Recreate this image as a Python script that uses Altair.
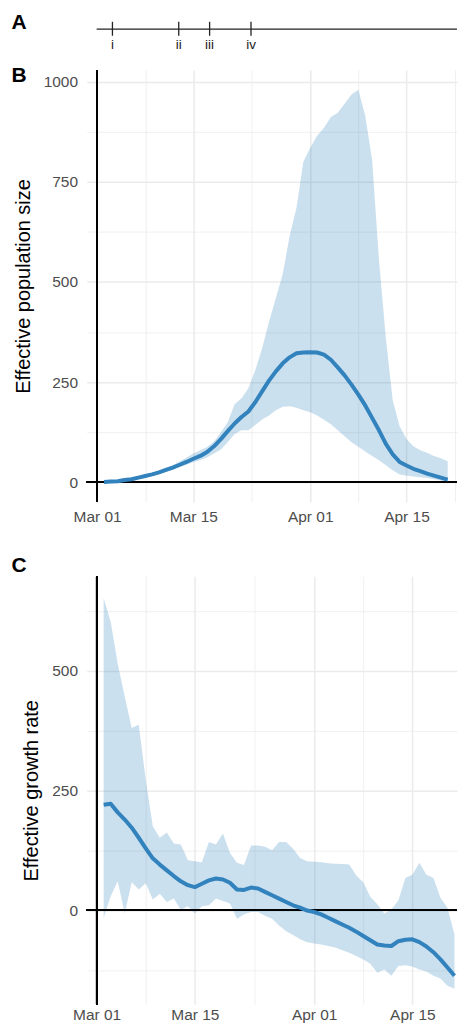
import altair as alt
import pandas as pd

FONT = "Liberation Sans"
BLUE = "#3182BD"
GRID = "#EBEBEB"
LABEL_GREY = "#4D4D4D"
START = pd.Timestamp("2020-03-01")

# ---------------- data ----------------
dates = pd.date_range("2020-03-02", "2020-04-21", freq="D")
days = [int((d - START).days) for d in dates]

# Panel A: timeline events (days after Mar 01)
event_days = [2.25, 11.7, 16.1, 22.0]
event_labels = ["i", "ii", "iii", "iv"]

# Panel B: effective population size
b_median = [1, 2, 3, 6, 8, 12, 16, 20, 25, 31, 37, 44, 51, 59, 66, 76, 90, 108, 128, 147,
            163, 177, 200, 227, 254, 277, 297, 312, 322, 324, 325, 324, 319, 306, 287, 267,
            244, 219, 192, 161, 130, 96, 70, 51, 42, 34, 28, 22, 17, 12, 7]
b_lower = [0, 1, 2, 4, 6, 9, 13, 17, 21, 26, 32, 38, 44, 51, 55, 62, 72, 82, 100, 121,
           130, 130, 143, 157, 167, 180, 189, 190, 186, 180, 175, 167, 156, 145, 130, 115,
           100, 89, 77, 66, 55, 43, 30, 20, 17, 15, 13, 11, 8, 5, 1]
b_upper = [2, 3, 5, 8, 10, 14, 19, 24, 29, 36, 43, 52, 62, 72, 80, 88, 102, 125, 150, 195,
           210, 235, 280, 335, 400, 460, 520, 615, 685, 800, 835, 865, 885, 912, 922, 945,
           968, 980, 915, 805, 555, 360, 205, 140, 108, 90, 80, 74, 66, 60, 53]

# Panel C: effective growth rate
c_median = [220, 222, 204, 189, 172, 151, 129, 108, 95, 83, 71, 60, 52, 48, 55, 62, 66, 64,
            57, 43, 42, 47, 45, 38, 31, 24, 17, 10, 5, -1, -4, -9, -16, -23, -30, -37, -45,
            -54, -63, -72, -74, -75, -65, -62, -61, -67, -76, -88, -103, -120, -137]
c_lower = [-16, 29, 60, -7, 58, 43, 56, 22, 34, 17, 24, 0, 8, -7, 8, 10, 24, 19, 14, -18,
           -9, -4, -4, -12, -18, -32, -44, -52, -61, -67, -70, -72, -75, -78, -84, -89, -96,
           -103, -112, -131, -124, -137, -117, -115, -118, -124, -128, -137, -143, -158, -164]
c_upper = [651, 602, 515, 446, 380, 387, 272, 175, 151, 162, 139, 137, 104, 102, 100, 142,
           137, 160, 119, 99, 94, 135, 135, 132, 125, 142, 142, 128, 109, 102, 101, 100, 98,
           97, 96, 95, 72, 58, 28, 12, -7, 1, 20, 67, 74, 99, 74, 67, 26, 5, -51]

# axis ticks
x_major_days = [0, 14, 31, 45]
x_major_labels = ["Mar 01", "Mar 15", "Apr 01", "Apr 15"]
x_minor_days = [7, 22.5, 38, 52]
b_y_ticks = [0, 125, 250, 375, 500, 625, 750, 875, 1000]
c_y_ticks = [-125, 0, 125, 250, 375, 500, 625]

letters = ["A", "B", "C"]

W = 371
H_B = 433
H_C = 429
B_XDOM = [-1.5, 52.35]
C_XDOM = [-1.4, 51.36]
B_YDOM = [-49, 1029]
C_YDOM = [-196.75, 697]

# ---------------- helpers ----------------
def x_label_expr():
    parts = [f"datum.value == {d} ? '{l}'" for d, l in zip(x_major_days, x_major_labels)]
    return " : ".join(parts) + " : ''"


def grid_width(major):
    arr = "[" + ",".join(str(v) for v in major) + "]"
    return {"condition": {"test": f"indexof({arr}, datum.value) >= 0", "value": 1.5},
            "value": 0.75}


def x_axis(pad):
    return alt.Axis(values=sorted(x_major_days + x_minor_days), labelExpr=x_label_expr(),
                    title=None, grid=True, gridColor=GRID, gridWidth=grid_width(x_major_days),
                    domain=False, ticks=False, tickSize=0, labelPadding=pad,
                    labelFont=FONT, labelFontSize=15.5, labelColor=LABEL_GREY,
                    labelFlush=False, labelOverlap=False)


def y_axis(ticks, title):
    major = [v for v in ticks if v % 250 == 0]
    return alt.Axis(values=ticks, format="d",
                    labelExpr="datum.value % 250 == 0 ? datum.label : ''",
                    title=title, grid=True, gridColor=GRID, gridWidth=grid_width(major),
                    domain=False, ticks=False, tickSize=0, labelPadding=9.3,
                    labelFont=FONT, labelFontSize=15.5, labelColor=LABEL_GREY,
                    titleFont=FONT, titleFontSize=20, titleFontWeight="normal",
                    titleColor="black", titlePadding=10, labelOverlap=False)


def letter(ch, dy):
    return alt.Chart(pd.DataFrame({"t": [ch]})).mark_text(
        align="left", baseline="top", fontSize=21, fontWeight="bold", font=FONT,
        color="black").encode(x=alt.value(-75.6), y=alt.value(dy), text="t:N")


def panel(days_, med, lo, hi, xdom, ydom, yticks, title, ch, dy, h, xpad):
    df = pd.DataFrame({"day": days_, "median": med, "lower": lo, "upper": hi})
    xs = alt.Scale(domain=xdom, nice=False, zero=False)
    ys = alt.Scale(domain=ydom, nice=False, zero=False)
    X = alt.X("day:Q", scale=xs, axis=x_axis(xpad))
    base = alt.Chart(df)
    band = base.mark_area(color=BLUE, opacity=0.25).encode(
        x=X, y=alt.Y("lower:Q", scale=ys, axis=y_axis(yticks, title)), y2="upper:Q")
    vline = base.mark_rule(color="black", strokeWidth=1.3).encode(x=alt.datum(0))
    hline = base.mark_rule(color="black", strokeWidth=1.3).encode(y=alt.datum(0))
    line = base.mark_line(color=BLUE, strokeWidth=4, strokeJoin="round").encode(
        x=X, y=alt.Y("median:Q", scale=ys, axis=y_axis(yticks, title)))
    return alt.layer(band, vline, hline, line, letter(ch, dy)).properties(width=W, height=h)


# ---------------- panel A ----------------
a_dom = C_XDOM
a_scale = alt.Scale(domain=a_dom, nice=False, zero=False)
tl = alt.Chart(pd.DataFrame({"start": [0], "end": [a_dom[1]]})).mark_rule(
    color="#222222", strokeWidth=1.3).encode(
    x=alt.X("start:Q", scale=a_scale, axis=None), x2="end:Q", y=alt.value(17))
ev = pd.DataFrame({"eday": event_days, "lab": event_labels})
ticks = alt.Chart(ev).mark_rule(color="#222222", strokeWidth=1.3).encode(
    x=alt.X("eday:Q", scale=a_scale, axis=None), y=alt.value(9.7), y2=alt.value(23.7))
labs = alt.Chart(ev).mark_text(font=FONT, fontSize=13.5, color="#1a1a1a",
                               baseline="alphabetic", align="center").encode(
    x=alt.X("eday:Q", scale=a_scale, axis=None), y=alt.value(37), text="lab:N")
panel_a = alt.layer(tl, ticks, labs, letter(letters[0], 0)).properties(width=W, height=40)

panel_b = panel(days, b_median, b_lower, b_upper, B_XDOM, B_YDOM, b_y_ticks,
                "Effective population size", letters[1], -5.3, H_B, 7.5)
panel_c = panel(days, c_median, c_lower, c_upper, C_XDOM, C_YDOM, c_y_ticks,
                "Effective growth rate", letters[2], -21, H_C, 3)

top = alt.vconcat(panel_a, panel_b, spacing=12).resolve_scale(x="independent", y="independent")
chart = alt.vconcat(top, panel_c, spacing=30.4).resolve_scale(
    x="independent", y="independent").properties(
    padding={"left": 3, "top": 3, "right": 0, "bottom": 0}).configure_view(stroke=None)

chart.save("out.html", embed_options={"renderer": "svg", "actions": False})
